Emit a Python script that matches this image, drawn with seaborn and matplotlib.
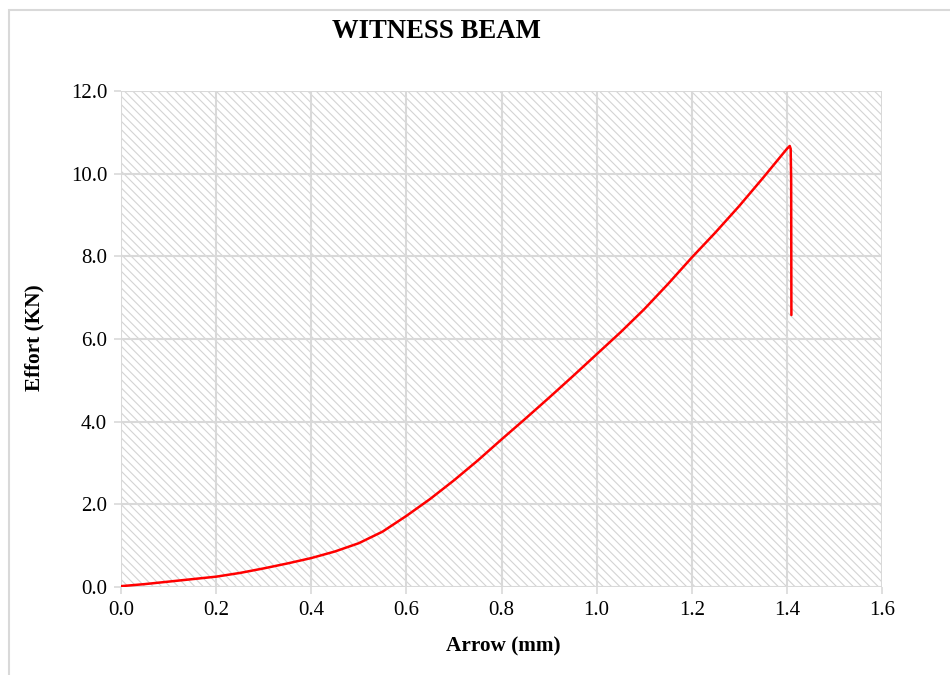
import numpy as np
import pandas as pd
import matplotlib
matplotlib.use("Agg")
import matplotlib.pyplot as plt
import seaborn as sns
from matplotlib.patches import Rectangle

# load / deflection curve
arrow_mm = [0.0, 0.05, 0.1, 0.15, 0.2, 0.25, 0.3, 0.35, 0.4, 0.45, 0.5, 0.55,
            0.6, 0.65, 0.7, 0.75, 0.8, 0.85, 0.9, 0.95, 1.0, 1.05, 1.1, 1.15,
            1.2, 1.25, 1.3, 1.35, 1.4, 1.406, 1.408, 1.409, 1.4095]
effort_kn = [0.02, 0.07, 0.13, 0.19, 0.25, 0.34, 0.45, 0.57, 0.70, 0.86, 1.06, 1.34,
             1.72, 2.13, 2.58, 3.06, 3.57, 4.07, 4.58, 5.10, 5.63, 6.16, 6.72, 7.33,
             7.97, 8.58, 9.22, 9.90, 10.60, 10.67, 10.6, 9.85, 6.58]

title = "WITNESS BEAM"
x_label = "Arrow (mm)"
y_label = "Effort (KN)"

sns.set_theme(style="white")
plt.rcParams['font.family'] = ['Liberation Serif', 'DejaVu Serif']
plt.rcParams['hatch.color'] = '#d4d4d4'
plt.rcParams['hatch.linewidth'] = 0.8
plt.rcParams['path.simplify'] = False

fig = plt.figure(figsize=(9.5, 6.75), dpi=100)
ax = fig.add_axes([121 / 950, 1 - 587 / 675, 761 / 950, 496 / 675])

# frame around the chart (cropped on the right and bottom)
fig.patches.append(Rectangle((9 / 950, -0.1), 1.2, 1 - 10 / 675 + 0.1,
                             transform=fig.transFigure, fill=False,
                             edgecolor='#d9d9d9', linewidth=1.5))

# hatched plot area
ax.add_patch(Rectangle((0, 0), 1, 1, transform=ax.transAxes, facecolor='white',
                       edgecolor='#d4d4d4', hatch='\\\\\\\\', linewidth=0, zorder=0))

df = pd.DataFrame({"arrow": arrow_mm, "effort": effort_kn})
sns.lineplot(data=df, x="arrow", y="effort", sort=False, color='#ff0000',
             linewidth=1.8, ax=ax, zorder=3)

ax.set_xlim(0, 1.6)
ax.set_ylim(0, 12)
xt = np.arange(0, 1.61, 0.2)
yt = np.arange(0, 12.1, 2)
ax.set_xticks(xt)
ax.set_yticks(yt)
ax.set_xticklabels([f"{v:.1f}" for v in xt])
ax.set_yticklabels([f"{v:.1f}" for v in yt])
ax.grid(True, color='#d9d9d9', linewidth=1.5, zorder=1)
ax.set_axisbelow(True)
for s in ax.spines.values():
    s.set_visible(False)
ax.tick_params(axis='both', which='both', length=5, width=1.2, color='#d9d9d9',
               labelsize=15, labelcolor='black', pad=5, direction='out',
               bottom=True, left=True)

ax.set_xlabel("")
ax.set_ylabel("")
fig.text(503 / 950, 1 - 646 / 675, x_label, ha='center', va='center',
         fontsize=15.3, fontweight='bold', color='black')
fig.text(34 / 950, 1 - 338 / 675, y_label, ha='center', va='center',
         rotation=90, fontsize=15.3, fontweight='bold', color='black')
fig.text(436 / 950, 1 - 32 / 675, title, ha='center', va='center',
         fontsize=19.3, fontweight='bold', color='black')

fig.savefig("out.png", dpi=100)
